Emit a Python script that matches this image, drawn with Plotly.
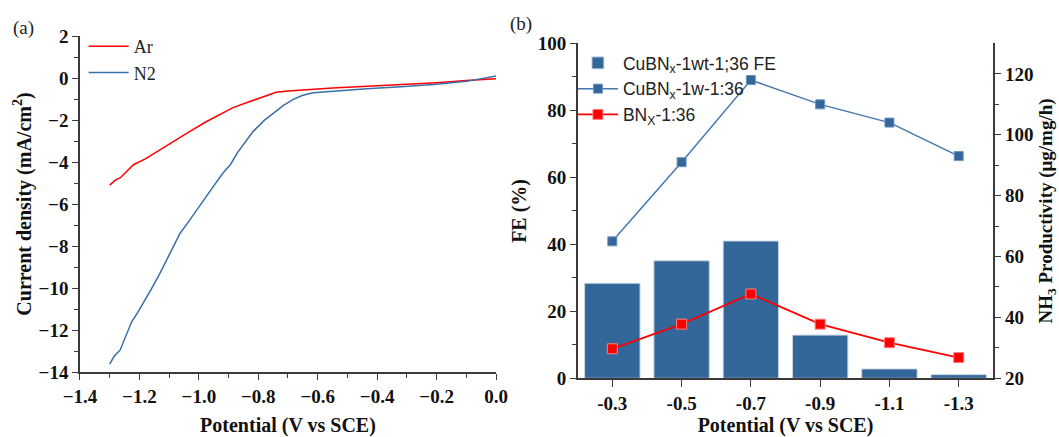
import plotly.graph_objects as go

# ---- (a) linear sweep voltammetry ----
ar_potential = [-1.30, -1.28, -1.265, -1.24, -1.22, -1.18, -1.13, -1.08, -1.03, -0.98,
                -0.93, -0.885, -0.84, -0.80, -0.77, -0.74, -0.70, -0.65, -0.55, -0.45,
                -0.32, -0.20, -0.10, 0.0]
ar_current = [-5.10, -4.85, -4.76, -4.40, -4.13, -3.85, -3.41, -2.95, -2.54, -2.12,
              -1.75, -1.41, -1.18, -0.98, -0.80, -0.68, -0.62, -0.56, -0.47, -0.40,
              -0.31, -0.22, -0.12, -0.03]

n2_potential = [-1.30, -1.285, -1.265, -1.245, -1.226, -1.205, -1.187, -1.16, -1.131, -1.10,
                -1.063, -1.035, -1.007, -0.98, -0.951, -0.92, -0.894, -0.87, -0.845, -0.817,
                -0.78, -0.749, -0.715, -0.682, -0.65, -0.615, -0.55, -0.435, -0.32, -0.21,
                -0.10, 0.0]
n2_current = [-13.62, -13.25, -12.96, -12.30, -11.61, -11.15, -10.73, -10.05, -9.30, -8.45,
              -7.39, -6.85, -6.27, -5.70, -5.16, -4.55, -4.13, -3.55, -3.05, -2.54,
              -2.02, -1.66, -1.30, -1.02, -0.82, -0.70, -0.62, -0.51, -0.42, -0.31,
              -0.16, 0.10]

# ---- (b) Faradaic efficiency and NH3 yield ----
potentials = ["-0.3", "-0.5", "-0.7", "-0.9", "-1.1", "-1.3"]
fe_cubnx = [28.4, 35.1, 41.0, 12.9, 2.8, 1.1]
yield_cubnx = [65, 91, 118, 110, 104, 93]
yield_bnx = [29.7, 37.8, 47.7, 37.8, 31.7, 26.8]

SERIF = "Liberation Serif"
SANS = "Liberation Sans"
AX = "#3a3a3a"
BLUE = "#336699"
RED = "#ff0000"

fig = go.Figure()

fig.add_trace(go.Scatter(x=ar_potential, y=ar_current, mode="lines", name="Ar",
                         line=dict(color=RED, width=1.5), xaxis="x", yaxis="y",
                         legend="legend"))
fig.add_trace(go.Scatter(x=n2_potential, y=n2_current, mode="lines", name="N2",
                         line=dict(color="#3a6ea8", width=1.5), xaxis="x", yaxis="y",
                         legend="legend"))

fig.add_trace(go.Bar(x=potentials, y=fe_cubnx, name="CuBN<sub>x</sub>-1wt-1;36 FE",
                     marker=dict(color=BLUE, line=dict(color="#c9d7e6", width=1)),
                     width=0.8, xaxis="x2", yaxis="y2", legend="legend2"))
fig.add_trace(go.Scatter(x=potentials, y=yield_cubnx, mode="lines+markers",
                         name="CuBN<sub>x</sub>-1w-1:36",
                         line=dict(color="#4677ad", width=1.5),
                         marker=dict(symbol="square", size=9, color=BLUE,
                                     line=dict(color="#6d93bd", width=1)),
                         xaxis="x2", yaxis="y4", legend="legend2"))
fig.add_trace(go.Scatter(x=potentials, y=yield_bnx, mode="lines+markers",
                         name="BN<sub>X</sub>-1:36",
                         line=dict(color=RED, width=1.8),
                         marker=dict(symbol="square", size=10, color=RED,
                                     line=dict(color="#ff8080", width=1)),
                         xaxis="x2", yaxis="y4", legend="legend2"))

tick_font = dict(family=SERIF, size=19, color="#111", weight="bold")
title_font = dict(family=SERIF, size=20, color="#111", weight="bold")

L_DOM_X = [0.0755, 0.4684]
L_DOM_Y = [0.1487, 0.9176]
R_DOM_X = [0.5455, 0.938]
R_DOM_Y = [0.1343, 0.9005]

base = dict(showline=True, linecolor=AX, linewidth=1.5, showgrid=False, zeroline=False,
            tickcolor=AX, tickwidth=1.2, automargin=False)

fig.update_layout(
    width=1059, height=437,
    margin=dict(l=0, r=0, t=0, b=0, autoexpand=False),
    paper_bgcolor="white", plot_bgcolor="white",
    bargap=0.2,
    # left panel
    xaxis=dict(**base, domain=L_DOM_X, anchor="y", range=[-1.4, 0], dtick=0.2,
               tickformat=".1f", ticks="outside", ticklen=6,
               minor=dict(dtick=0.1, ticks="outside", ticklen=4, tickcolor=AX),
               tickfont=tick_font,
               title=dict(text="Potential (V vs SCE)", font=title_font, standoff=12)),
    yaxis=dict(**base, domain=L_DOM_Y, anchor="x", range=[-14, 2], dtick=2,
               ticks="outside", ticklen=6,
               minor=dict(dtick=1, ticks="outside", ticklen=4, tickcolor=AX),
               tickfont=tick_font,
               title=dict(text="Current density (mA/cm<sup>2</sup>)", font=title_font,
                          standoff=2)),
    xaxis3=dict(**base, overlaying="x", side="top", anchor="y", range=[-1.4, 0],
                dtick=0.2, ticks="inside", ticklen=6, showticklabels=False,
                minor=dict(dtick=0.1, ticks="inside", ticklen=4, tickcolor=AX)),
    yaxis5=dict(**base, overlaying="y", side="right", anchor="x", range=[-14, 2],
                dtick=2, ticks="inside", ticklen=6, showticklabels=False,
                minor=dict(dtick=1, ticks="inside", ticklen=4, tickcolor=AX)),
    # right panel
    xaxis2=dict(**base, domain=R_DOM_X, anchor="y2", type="category",
                range=[-0.5, 5.5], ticks="outside", ticklen=7, tickfont=tick_font,
                title=dict(text="Potential (V vs SCE)", font=title_font, standoff=6)),
    xaxis4=dict(showline=False, showgrid=False, zeroline=False, overlaying="x2",
                side="bottom", anchor="y2", range=[-0.5, 5.5], automargin=False,
                tickmode="array", tickvals=[0.5, 1.5, 2.5, 3.5, 4.5],
                ticks="outside", ticklen=4, tickcolor=AX, tickwidth=1.2,
                showticklabels=False),
    xaxis5=dict(**base, overlaying="x2", side="top", anchor="y2", range=[-0.5, 5.5],
                tickmode="array", tickvals=[0, 1, 2, 3, 4, 5], ticks="inside",
                ticklen=6, showticklabels=False),
    yaxis2=dict(**base, domain=R_DOM_Y, anchor="x2", range=[0, 100], dtick=20,
                ticks="outside", ticklen=6,
                minor=dict(dtick=10, ticks="outside", ticklen=4, tickcolor=AX),
                tickfont=tick_font,
                title=dict(text="FE (%)", font=title_font, standoff=6)),
    yaxis4=dict(**base, overlaying="y2", side="right", anchor="x2", range=[20, 130],
                tickmode="array", tickvals=[20, 40, 60, 80, 100, 120],
                ticks="outside", ticklen=6,
                minor=dict(tickmode="array", tickvals=[30, 50, 70, 90, 110],
                           ticks="outside", ticklen=4, tickcolor=AX),
                tickfont=tick_font,
                title=dict(text="NH<sub>3</sub> Productivity (\u03bcg/mg/h)",
                           font=dict(family=SERIF, size=19, color="#111", weight="bold"),
                           standoff=8)),
    legend=dict(x=0.079, y=0.936, xanchor="left", yanchor="top",
                bgcolor="rgba(0,0,0,0)", tracegroupgap=0,
                font=dict(family=SERIF, size=18, color="#222"),
                itemwidth=40),
    legend2=dict(x=0.541, y=0.897, xanchor="left", yanchor="top",
                 bgcolor="rgba(0,0,0,0)",
                 font=dict(family=SANS, size=17.5, color="#222"),
                 itemwidth=40),
    annotations=[
        dict(text="(a)", x=0.022, y=0.936, xref="paper", yref="paper",
             xanchor="center", yanchor="middle",
             showarrow=False, font=dict(family=SERIF, size=19, color="#222")),
        dict(text="(b)", x=0.492, y=0.945, xref="paper", yref="paper",
             xanchor="center", yanchor="middle",
             showarrow=False, font=dict(family=SERIF, size=19, color="#222")),
    ],
)

fig.write_html("out.html")
